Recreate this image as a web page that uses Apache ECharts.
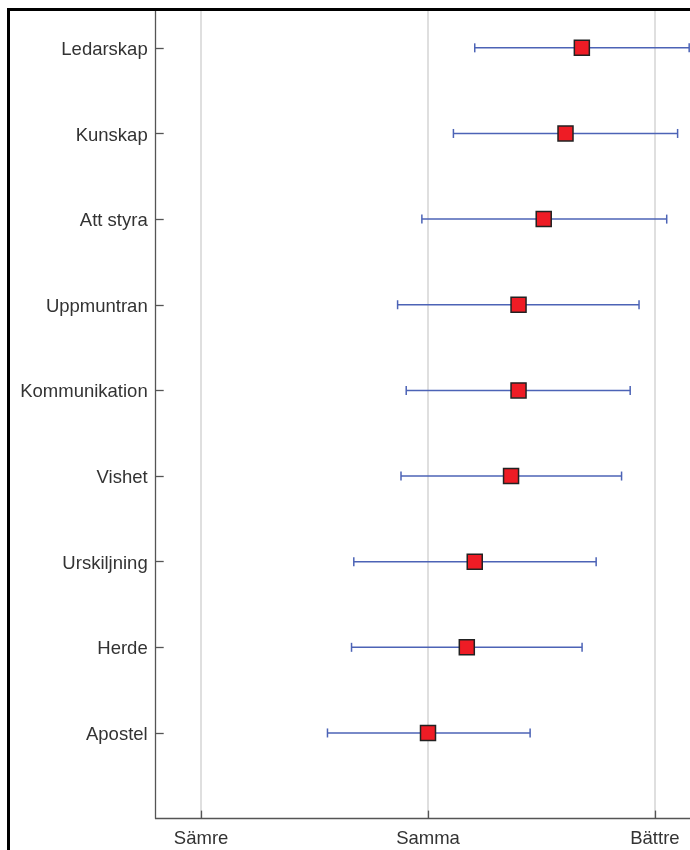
<!DOCTYPE html>
<html>
<head>
<meta charset="utf-8">
<script src="https://cdn.jsdelivr.net/npm/echarts@6/dist/echarts.min.js"></script>
<style>
  html, body { margin: 0; padding: 0; background: #fff; overflow: hidden; width: 690px; height: 850px; }
  #chart { position: absolute; left: 0; top: 0; width: 720px; height: 880px; }
</style>
</head>
<body>
<div id="chart"></div>
<script>
// Categories listed from top to bottom
const categories = ['Ledarskap', 'Kunskap', 'Att styra', 'Uppmuntran', 'Kommunikation', 'Vishet', 'Urskiljning', 'Herde', 'Apostel'];
// Estimated effect (-1 = Sämre, 0 = Samma, 1 = Bättre) and interval bounds
const estimates = [0.678, 0.606, 0.510, 0.399, 0.399, 0.366, 0.206, 0.171, 0.000];
const lowerBounds = [0.206, 0.112, -0.027, -0.134, -0.096, -0.119, -0.327, -0.337, -0.443];
const upperBounds = [1.151, 1.100, 1.052, 0.930, 0.891, 0.853, 0.741, 0.679, 0.450];
// Scale labels on the horizontal axis
const scaleValues = [-1, 0, 1];
const scaleLabels = ['Sämre', 'Samma', 'Bättre'];

const n = categories.length;
const rowPos = i => n - i; // top row sits highest on the value axis
const rowTicks = categories.map((_, i) => rowPos(i));

const pointData = estimates.map((v, i) => [v, rowPos(i)]);
const barData = categories.map((_, i) => [lowerBounds[i], upperBounds[i], rowPos(i)]);

const chart = echarts.init(document.getElementById('chart'), null, { renderer: 'canvas' });

const textFont = '"Liberation Sans", Arial, sans-serif';

chart.setOption({
  animation: false,
  backgroundColor: '#ffffff',
  grid: { left: 155.7, top: 11, width: 544.6, height: 807.6, containLabel: false },
  xAxis: {
    type: 'value',
    min: -1.2,
    max: 1.2,
    axisLine: { show: true, onZero: false, lineStyle: { color: '#555', width: 1.3 } },
    axisTick: { show: true, inside: true, length: 8, customValues: scaleValues, lineStyle: { color: '#555', width: 1.3 } },
    axisLabel: {
      customValues: scaleValues,
      margin: 11,
      color: '#333',
      fontFamily: textFont,
      fontSize: 18.5,
      formatter: v => scaleLabels[scaleValues.indexOf(Math.round(v))] || ''
    },
    splitLine: { show: true, lineStyle: { color: '#d4d4d4', width: 1.5 } }
  },
  yAxis: {
    type: 'value',
    min: 0,
    max: 9.43,
    axisLine: { show: true, onZero: false, lineStyle: { color: '#555', width: 1.3 } },
    axisTick: { show: true, inside: true, length: 8, customValues: rowTicks, lineStyle: { color: '#555', width: 1.3 } },
    axisLabel: {
      customValues: rowTicks,
      margin: 8,
      color: '#333',
      fontFamily: textFont,
      fontSize: 18.5,
      formatter: v => '{c|' + (categories[n - Math.round(v)] || '') + '}',
      rich: {
        c: {
          color: '#333',
          fontFamily: textFont,
          fontSize: 18.5,
          padding: [4, 0, 0, 0]
        }
      }
    },
    splitLine: { show: false }
  },
  series: [
    {
      type: 'custom',
      name: 'interval',
      z: 2,
      data: barData,
      encode: { x: [0, 1], y: 2 },
      renderItem: (params, api) => {
        const lo = api.coord([api.value(0), api.value(2)]);
        const hi = api.coord([api.value(1), api.value(2)]);
        const cap = 4.5;
        const style = { stroke: '#4c63b6', lineWidth: 1.5, fill: 'none' };
        return {
          type: 'group',
          children: [
            { type: 'line', shape: { x1: lo[0], y1: lo[1], x2: hi[0], y2: hi[1] }, style },
            { type: 'line', shape: { x1: lo[0], y1: lo[1] - cap, x2: lo[0], y2: lo[1] + cap }, style },
            { type: 'line', shape: { x1: hi[0], y1: hi[1] - cap, x2: hi[0], y2: hi[1] + cap }, style }
          ]
        };
      }
    },
    {
      type: 'scatter',
      name: 'estimate',
      z: 3,
      data: pointData,
      symbol: 'rect',
      symbolSize: 15,
      itemStyle: { color: '#ee1c25', borderColor: '#222', borderWidth: 1.5, opacity: 1 }
    }
  ],
  graphic: [
    {
      type: 'rect',
      z: 100,
      silent: true,
      shape: { x: 8.5, y: 9.5, width: 900, height: 1000 },
      style: { fill: 'transparent', stroke: '#000', lineWidth: 3 }
    }
  ]
});
</script>
</body>
</html>
